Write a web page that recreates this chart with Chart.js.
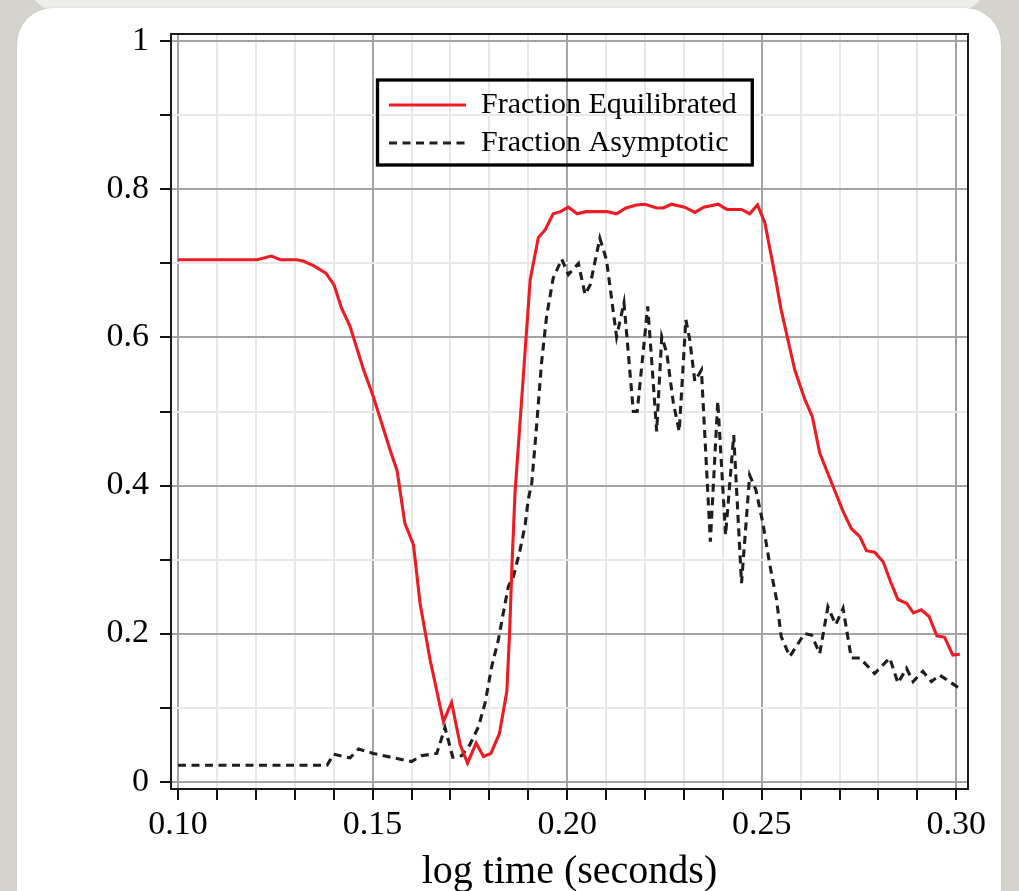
<!DOCTYPE html>
<html>
<head>
<meta charset="utf-8">
<script src="https://cdn.jsdelivr.net/npm/chart.js@4/dist/chart.umd.min.js"></script>
<style>
  html, body { margin:0; width:1019px; height:891px; overflow:hidden; background:#d5d3cd; }
  #back { position:absolute; left:30px; top:-40px; width:955px; height:50px; background:#ededeb; border-radius:34px; }
  #card { position:absolute; left:17px; top:8px; width:984px; height:960px; background:#fff; border-radius:36px; box-shadow:0 0 2px rgba(0,0,0,0.12); }
  canvas { position:absolute; left:0; top:0; }
</style>
</head>
<body>
<div id="back"></div>
<div id="card"></div>
<canvas id="plot" width="1019" height="905"></canvas>
<script>
// values
const eqX = [0.1000,0.1203,0.1240,0.1263,0.1306,0.1323,0.1348,0.1380,0.1401,0.1420,0.1442,0.1477,0.1502,0.1545,0.1563,0.1583,
  0.1605,0.1622,0.1648,0.1682,0.1703,0.1725,0.1744,0.1766,0.1785,0.1804,0.1826,0.1845,0.1852,0.1858,0.1866,0.1905,0.1926,
  0.1943,0.1964,0.1983,0.2003,0.2026,0.2048,0.2103,0.2127,0.2151,0.2178,0.2200,0.2230,0.2247,0.2268,0.2302,0.2328,0.2351,
  0.2388,0.2410,0.2448,0.2469,0.2489,0.2508,0.2533,0.2550,0.2585,0.2611,0.2630,0.2649,0.2683,0.2709,0.2730,0.2752,0.2769,
  0.2790,0.2812,0.2831,0.2850,0.2872,0.2890,0.2910,0.2930,0.2950,0.2970,0.2991,0.3009];
const eqY = [0.705,0.705,0.710,0.705,0.705,0.703,0.697,0.687,0.671,0.640,0.615,0.556,0.520,0.448,0.420,0.349,
  0.320,0.241,0.164,0.081,0.107,0.050,0.025,0.052,0.034,0.038,0.065,0.122,0.200,0.290,0.390,0.678,0.735,
  0.745,0.767,0.770,0.776,0.767,0.770,0.770,0.767,0.775,0.779,0.780,0.775,0.775,0.780,0.776,0.769,0.776,
  0.780,0.773,0.773,0.767,0.779,0.755,0.687,0.637,0.556,0.516,0.493,0.444,0.399,0.365,0.342,0.331,0.312,
  0.310,0.297,0.270,0.246,0.241,0.228,0.232,0.223,0.197,0.195,0.171,0.172];

const asX = [0.1000,0.1383,0.1400,0.1442,0.1464,0.1502,0.1600,0.1625,0.1665,0.1686,0.1706,0.1729,0.1750,0.1772,0.1789,0.1806,
  0.1823,0.1836,0.1849,0.1862,0.1879,0.1892,0.1900,0.1909,0.1922,0.1934,0.1947,0.1964,0.1986,0.2003,0.2029,0.2046,0.2059,
  0.2084,0.2101,0.2127,0.2146,0.2170,0.2180,0.2207,0.2217,0.2230,0.2243,0.2256,0.2273,0.2288,0.2305,0.2315,0.2328,0.2345,
  0.2368,0.2387,0.2407,0.2428,0.2448,0.2469,0.2485,0.2503,0.2520,0.2538,0.2550,0.2572,0.2610,0.2628,0.2649,0.2670,0.2690,
  0.2709,0.2730,0.2752,0.2790,0.2829,0.2850,0.2872,0.2889,0.2914,0.2936,0.2957,0.3008];
const asY = [0.022,0.022,0.037,0.032,0.044,0.038,0.027,0.035,0.038,0.073,0.033,0.035,0.050,0.074,0.106,0.155,
  0.191,0.228,0.264,0.277,0.313,0.347,0.381,0.403,0.484,0.565,0.628,0.680,0.706,0.685,0.700,0.658,0.671,
  0.734,0.705,0.601,0.647,0.500,0.500,0.642,0.570,0.473,0.601,0.579,0.511,0.473,0.624,0.597,0.541,0.556,
  0.324,0.514,0.333,0.468,0.268,0.414,0.394,0.349,0.295,0.246,0.196,0.169,0.200,0.198,0.173,0.236,0.212,
  0.234,0.167,0.167,0.146,0.167,0.133,0.153,0.135,0.149,0.135,0.144,0.126];

const seriesNames = ['Fraction Equilibrated', 'Fraction Asymptotic'];
const xTickLabels = ['0.10', '0.15', '0.20', '0.25', '0.30'];
const yTickLabels = ['0', '0.2', '0.4', '0.6', '0.8', '1'];
const xFirstLabel = 0.10, xLabelStep = 0.05, yLabelStep = 0.2;

const serif = "'Liberation Serif', 'Times New Roman', serif";

function labelIndex(v, start, step){
  const i = Math.round((v - start) / step);
  return Math.abs(v - (start + i * step)) < 1e-6 ? i : -1;
}
function gridColor(isMajor){ return isMajor ? '#a4a4a4' : '#e8e8e8'; }

const frame = {
  id: 'frame',
  afterLayout(chart){
    const lg = chart.legend;
    const w = lg.width, h = lg.height;
    lg.left = 381; lg.top = 82; lg.right = lg.left + w; lg.bottom = lg.top + h;
  },
  afterDraw(chart){
    const {ctx, chartArea:a} = chart;
    ctx.save();
    ctx.strokeStyle = '#1c1c1c';
    ctx.lineWidth = 2;
    ctx.strokeRect(a.left, a.top, a.right - a.left, a.bottom - a.top);
    // legend frame
    const lg = chart.legend;
    const wMax = Math.max(...lg.legendHitBoxes.map(b => b.width));
    ctx.lineWidth = 3.3;
    ctx.strokeStyle = '#000';
    ctx.strokeRect(lg.left - 3.5, lg.top - 2, wMax + 27, 85);
    ctx.restore();
  }
};

new Chart(document.getElementById('plot'), {
  type: 'line',
  data: {
    datasets: [
      { label: seriesNames[0], data: eqX.map((x, i) => ({x, y: eqY[i]})),
        borderColor: '#ec1c24', backgroundColor: '#ec1c24', borderWidth: 3.1, pointRadius: 0, tension: 0 },
      { label: seriesNames[1], data: asX.map((x, i) => ({x, y: asY[i]})),
        borderColor: '#1e1e1e', backgroundColor: '#1e1e1e', borderWidth: 3.1, borderDash: [8, 5.5], pointRadius: 0, tension: 0 }
    ]
  },
  options: {
    responsive: false,
    animation: false,
    devicePixelRatio: 1,
    layout: { padding: { left: 0, top: 34, right: 51, bottom: 0 } },
    plugins: {
      tooltip: { enabled: false },
      legend: {
        position: 'chartArea',
        align: 'start',
        labels: {
          usePointStyle: true, pointStyle: 'line', pointStyleWidth: 77,
          boxHeight: 30, padding: 8, color: '#000',
          font: { family: serif, size: 30 },
          generateLabels: chart => chart.data.datasets.map((d, i) => ({
            text: d.label, datasetIndex: i, hidden: false, pointStyle: 'line',
            strokeStyle: d.borderColor, fillStyle: d.borderColor,
            lineWidth: d.borderWidth, lineDash: d.borderDash || [], lineCap: 'butt'
          }))
        }
      }
    },
    scales: {
      x: {
        type: 'linear', min: 0.0982, max: 0.303,
        afterFit: s => { s.height = 116; },
        border: { display: false },
        grid: {
          color: c => gridColor(labelIndex(c.tick.value, xFirstLabel, xLabelStep) >= 0),
          lineWidth: 2, tickColor: '#111', tickWidth: 2, tickLength: 11, drawTicks: true
        },
        ticks: {
          stepSize: 0.01, includeBounds: false, autoSkip: false, maxRotation: 0, padding: 5,
          color: '#000', font: { family: serif, size: 34 },
          callback: v => { const i = labelIndex(v, xFirstLabel, xLabelStep); return i >= 0 ? xTickLabels[i] : ''; }
        },
        title: { display: true, text: 'log time (seconds)', color: '#000',
          font: { family: serif, size: 40 }, padding: { top: 0, bottom: 9 } }
      },
      y: {
        type: 'linear', min: -0.01, max: 1.01,
        afterFit: s => { s.width = 171; },
        border: { display: false },
        grid: {
          color: c => gridColor(labelIndex(c.tick.value, 0, yLabelStep) >= 0),
          lineWidth: 2, tickColor: '#111', tickWidth: 2, tickLength: 11, drawTicks: true
        },
        ticks: {
          stepSize: 0.1, includeBounds: false, autoSkip: false, padding: 11,
          color: '#000', font: { family: serif, size: 34 },
          callback: v => { const i = labelIndex(v, 0, yLabelStep); return i >= 0 ? yTickLabels[i] : ''; }
        }
      }
    }
  },
  plugins: [frame]
});
</script>
</body>
</html>
